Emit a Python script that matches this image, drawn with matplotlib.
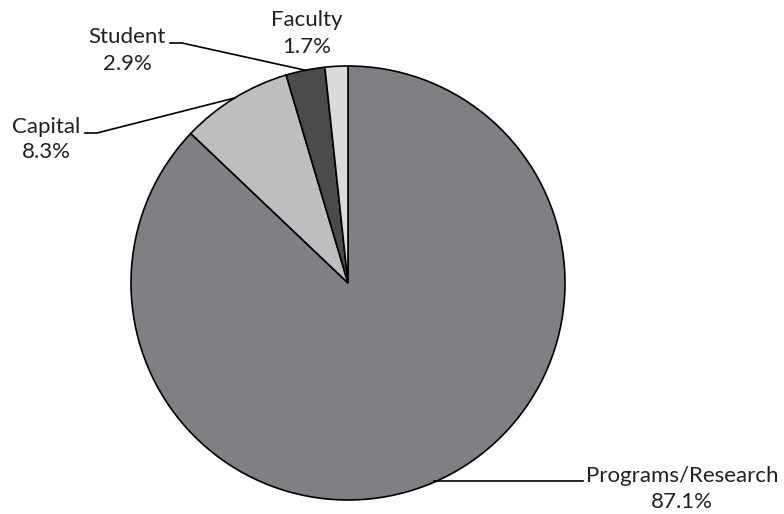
import numpy as np
import matplotlib
matplotlib.use("Agg")
import matplotlib.pyplot as plt

plt.rcParams['font.family'] = ['Lato', 'DejaVu Sans']

categories = ["Programs/Research", "Capital", "Student", "Faculty"]
values = [87.1, 8.3, 2.9, 1.7]
pct_labels = ["87.1%", "8.3%", "2.9%", "1.7%"]
colors = ["#7f8083", "#bdbec0", "#4b4b4d", "#d9dadc"]

W, H = 784, 514
fig = plt.figure(figsize=(W / 100, H / 100), dpi=100)
ax = fig.add_axes([0, 0, 1, 1])

cx, cy, r = 348, H - 283, 217
wedges, _ = ax.pie(values, colors=colors, startangle=90, counterclock=False,
                   center=(cx, cy), radius=r, frame=True,
                   wedgeprops=dict(edgecolor='black', linewidth=1.2))
ax.set_xlim(0, W)
ax.set_ylim(0, H)
ax.set_aspect('equal')
ax.axis('off')

# label layout (pixel coords from top):
# text centre x, name baseline y, pct baseline y, leader end x, leader y
label_pos = {
    "Programs/Research": (682, 481.5, 508, 583, 481),
    "Capital": (46, 133, 158, 85, 133),
    "Student": (127, 43, 70, 170, 43),
    "Faculty": (307, 26.5, 53, None, None),
}
knee_len = {"Programs/Research": 0, "Capital": 12, "Student": 12}

for w, cat, pct in zip(wedges, categories, pct_labels):
    tx, ny, py, lx, ly = label_pos[cat]
    ax.text(tx, H - ny, cat, ha='center', va='baseline',
            fontsize=16, color='#231f20')
    ax.text(tx, H - py, pct, ha='center', va='baseline',
            fontsize=16, color='#231f20')
    if lx is None:
        continue
    mid = np.deg2rad((w.theta1 + w.theta2) / 2)
    ex, ey = cx + r * np.cos(mid), cy + r * np.sin(mid)
    if cat == "Programs/Research":
        ax.plot([ex, lx], [H - ly, H - ly], color='black', lw=1.2)
    else:
        k = knee_len[cat]
        ax.plot([lx, lx + k, ex], [H - ly, H - ly, ey], color='black', lw=1.2,
                solid_joinstyle='miter')

fig.savefig("out.png", dpi=100)
